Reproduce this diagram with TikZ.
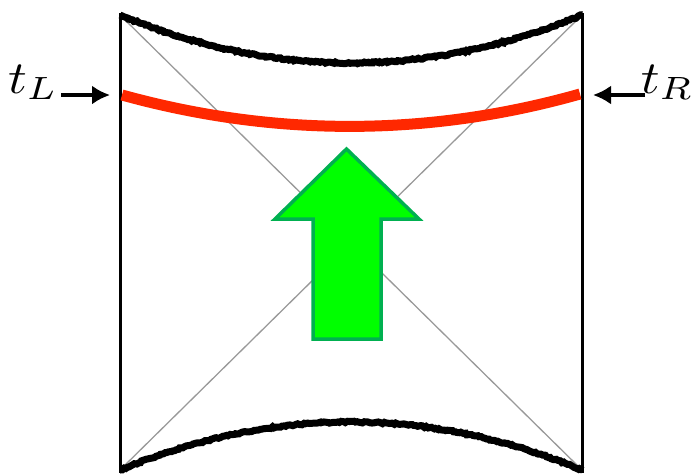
\documentclass[tikz,border=0pt]{standalone}
\usetikzlibrary{arrows.meta,decorations.pathmorphing}
\definecolor{slicered}{RGB}{255,40,0}
\definecolor{arrowedge}{RGB}{0,176,80}
\definecolor{arrowfill}{RGB}{0,255,0}
\begin{document}
\begin{tikzpicture}[x=1pt,y=-1pt,
  edge/.style={line width=3pt,black},
  sing/.style={line width=7pt,black,decorate,decoration={random steps,segment length=2pt,amplitude=0.8pt}},
  diag/.style={line width=1.3pt,gray!80},
  slice/.style={line width=11pt,slicered},
  bigarrow/.style={line width=3.5pt,draw=arrowedge,fill=arrowfill,line join=miter},
  lab/.style={inner sep=0pt},
  ptr/.style={line width=3.2pt,-{Latex[length=18pt,width=19pt]}}]
\useasboundingbox (0,0) rectangle (696,475);
\coordinate (TL) at (120,15);
\coordinate (TR) at (582,15);
\coordinate (BL) at (120,470);
\coordinate (BR) at (582,470);
\coordinate (SL) at (122,95);
\coordinate (SR) at (580,94);
% diagonals
\draw[diag] (TL) -- (BR);
\draw[diag] (TR) -- (BL);
% boundaries
\draw[edge] (120,13) -- (120,473);
\draw[edge] (582,13) -- (582,473);
% singularities (quadratic curves written as cubics)
\draw[sing] (TL) .. controls (274,79) and (428,79) .. (TR);
\draw[sing] (BL) .. controls (274,406) and (428,406) .. (BR);
% slice
\draw[slice] (SL) .. controls (274,137) and (428,137) .. (SR);
% arrow
\draw[bigarrow] (346.5,149) -- (419,219) -- (381,219) -- (381,339) -- (313,339) -- (313,219) -- (275,219) -- cycle;
% labels
\node[lab,anchor=base west] (tl) at (8,93) {\scalebox{5.2}[4.6]{$t_L$}};
\node[lab,anchor=base east] (tr) at (694,93) {\scalebox{5.2}[4.6]{$t_R$}};
\coordinate (al) at (110,95);
\coordinate (ar) at (593,95);
\draw[ptr] (61,95) -- (al);
\draw[ptr] (645,95) -- (ar);
\end{tikzpicture}
\end{document}
